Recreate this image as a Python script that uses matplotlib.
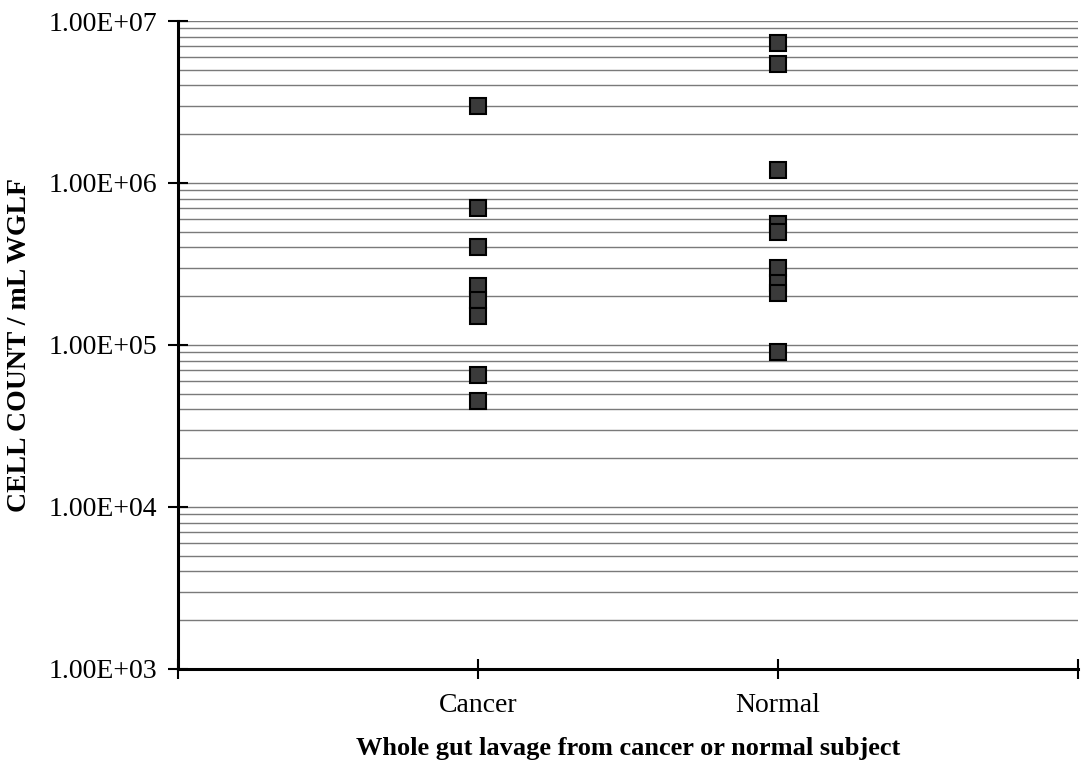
import matplotlib.pyplot as plt
import numpy as np

# values (cells / mL WGLF)
cancer = [3.0e6, 7.0e5, 4.0e5, 2.3e5, 1.9e5, 1.5e5, 6.5e4, 4.5e4]
normal = [7.3e6, 5.4e6, 1.2e6, 5.6e5, 5.0e5, 3.0e5, 2.4e5, 2.1e5, 9.0e4]
groups = ["Cancer", "Normal"]
xTickLabels = ["", "Cancer", "Normal", ""]

plt.rcParams['font.family'] = ['Liberation Serif', 'DejaVu Serif']

fig = plt.figure(figsize=(10.83, 7.75), dpi=100)
ax = fig.add_axes([0.1644, 0.1368, 0.8310, 0.8361])

for i, vals in enumerate([cancer, normal]):
    ax.plot([i + 1] * len(vals), vals, linestyle='none', marker='s',
            markersize=11, markerfacecolor='#3a3a3a', markeredgecolor='black',
            markeredgewidth=1.5, zorder=3)

ax.set_yscale('log')
ax.set_ylim(1e3, 1e7)
ax.set_xlim(0, 3)

ax.set_yticks([1e3, 1e4, 1e5, 1e6, 1e7])
ax.set_yticklabels(["1.00E+03", "1.00E+04", "1.00E+05", "1.00E+06", "1.00E+07"])
ax.yaxis.set_minor_locator(plt.matplotlib.ticker.LogLocator(base=10, subs=np.arange(2, 10)))
ax.tick_params(axis='y', which='minor', length=0)
ax.grid(True, which='both', axis='y', color='#7a7a7a', linewidth=1.0)

ax.set_xticks([0, 1, 2, 3])
ax.set_xticklabels(xTickLabels)
ax.tick_params(axis='both', which='major', direction='inout', length=14, width=1.5,
               labelsize=20, color='black')
ax.tick_params(axis='y', pad=8)
ax.tick_params(axis='x', pad=10)

for s in ['top', 'right']:
    ax.spines[s].set_visible(False)
for s in ['left', 'bottom']:
    ax.spines[s].set_linewidth(2.2)
    ax.spines[s].set_color('black')
    ax.spines[s].set_zorder(4)

ax.set_ylabel("CELL COUNT / mL WGLF", fontsize=20, fontweight='bold')
ax.set_xlabel("Whole gut lavage from cancer or normal subject", fontsize=19,
              fontweight='bold')
ax.yaxis.set_label_coords(-0.162, 0.5)
ax.xaxis.set_label_coords(0.5, -0.105)

fig.savefig("out.png", dpi=100)
